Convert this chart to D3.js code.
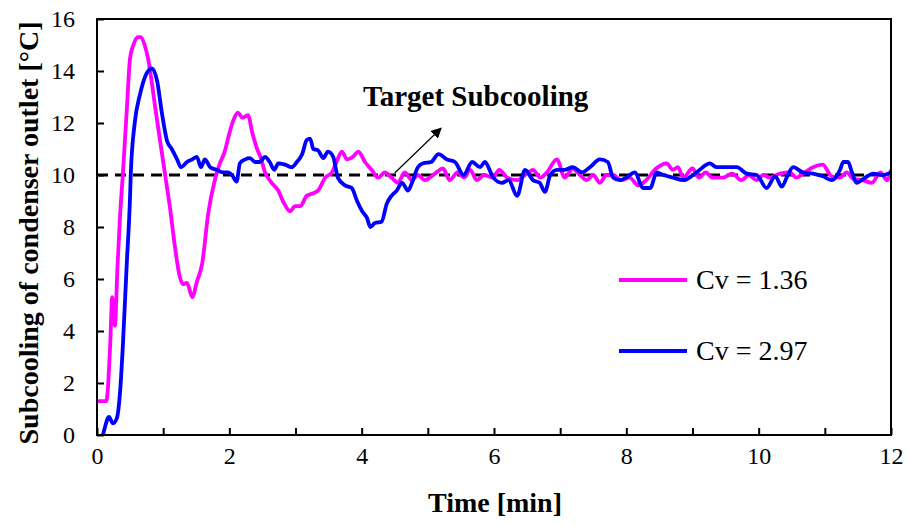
<!DOCTYPE html>
<html>
<head>
<meta charset="utf-8">
<script src="https://cdn.jsdelivr.net/npm/d3@7"></script>
<style>
  body { margin: 0; background: #fff; }
  svg text { font-family: "Liberation Serif", "Times New Roman", serif; fill: #000; }
</style>
</head>
<body>
<div id="chart"></div>
<script>
const FRAME_WIDTH = 908;
const FRAME_HEIGHT = 525;
const MARGINS = {left: 97, right: 17, top: 19, bottom: 90};

const X_TICKS = [0, 1, 2, 3, 4, 5, 6, 7, 8, 9, 10, 11, 12];
const Y_TICKS = [0, 2, 4, 6, 8, 10, 12, 14, 16];
const TARGET = 10;

// Cv = 1.36 (magenta)
const MAG_T = [0, 0.14, 0.2, 0.23, 0.27, 0.31, 0.35, 0.39, 0.45, 0.5, 0.55, 0.62, 0.66, 0.72, 0.77, 0.88, 0.96, 1.03, 1.1, 1.18,
  1.25, 1.3, 1.36, 1.44, 1.51, 1.59, 1.68, 1.78, 1.85, 1.93, 2.0, 2.06, 2.13, 2.2, 2.28, 2.35, 2.42, 2.47, 2.54, 2.64,
  2.74, 2.81, 2.92, 2.99, 3.07, 3.17, 3.27, 3.34, 3.45, 3.55, 3.62, 3.7, 3.78, 3.87, 3.95, 4.05, 4.15, 4.25, 4.35, 4.45,
  4.55, 4.65, 4.76, 4.85, 4.95, 5.03, 5.13, 5.23, 5.33, 5.45, 5.55, 5.64, 5.74, 5.85, 5.98, 6.08, 6.2, 6.35, 6.47, 6.59,
  6.7, 6.8, 6.95, 7.07, 7.19, 7.3, 7.4, 7.5, 7.6, 7.7, 7.8, 7.92, 8.05, 8.18, 8.3, 8.45, 8.61, 8.7, 8.78, 8.86,
  9.0, 9.1, 9.2, 9.3, 9.46, 9.6, 9.74, 9.85, 9.97, 10.07, 10.17, 10.32, 10.47, 10.57, 10.67, 10.82, 10.97, 11.1, 11.23, 11.33,
  11.43, 11.57, 11.71, 11.84, 11.94, 12];
const MAG_V = [1.3, 1.3, 3.5, 5.3, 4.2, 6.5, 8.5, 10, 12.5, 14.5, 15.0, 15.3, 15.3, 15.0, 14.5, 12.6, 11.2, 10, 8.8, 7.2,
  6.1, 5.8, 5.85, 5.3, 5.9, 6.6, 8.5, 9.8, 10.4, 10.9, 11.6, 12.1, 12.4, 12.2, 12.3, 11.6, 11.0, 10.7, 10.1, 9.7,
  9.4, 9.0, 8.6, 8.8, 8.8, 9.2, 9.3, 9.4, 9.9, 10.1, 10.5, 10.9, 10.6, 10.7, 10.9, 10.5, 10.2, 9.9, 10.1, 9.9,
  9.7, 10.1, 9.8, 10.0, 9.8, 9.9, 10.1, 10.25, 9.8, 10.1, 9.9, 10.2, 9.8, 10.0, 9.9, 10.2, 9.9, 9.8, 10.0, 10.2,
  9.9, 10.1, 10.6, 9.9, 10.25, 10.0, 9.8, 10.0, 9.7, 10.0, 10.0, 9.8, 9.9, 9.6, 9.8, 10.25, 10.45, 10.2, 10.3, 9.9,
  10.25, 9.9, 10.1, 9.9, 9.9, 10.05, 9.8, 10.0, 9.8, 10.0, 9.9, 10.05, 10.1, 9.9, 10.05, 10.3, 10.4, 9.95, 9.9, 10.1,
  9.85, 9.8, 9.7, 10.1, 9.8, 10.2];

// Cv = 2.97 (blue)
const BLUE_T = [0.09, 0.12, 0.18, 0.24, 0.3, 0.35, 0.39, 0.45, 0.5, 0.51, 0.57, 0.65, 0.73, 0.83, 0.91, 0.98, 1.06, 1.13, 1.21, 1.27,
  1.36, 1.44, 1.51, 1.57, 1.63, 1.71, 1.81, 1.9, 1.98, 2.04, 2.11, 2.16, 2.24, 2.31, 2.39, 2.46, 2.54, 2.61, 2.68, 2.74,
  2.84, 2.94, 3.02, 3.1, 3.17, 3.22, 3.27, 3.34, 3.42, 3.49, 3.57, 3.64, 3.75, 3.85, 3.93, 4.01, 4.08, 4.13, 4.2, 4.3,
  4.38, 4.45, 4.53, 4.61, 4.7, 4.76, 4.85, 4.93, 5.05, 5.16, 5.29, 5.41, 5.54, 5.67, 5.79, 5.86, 5.99, 6.12, 6.22, 6.35,
  6.47, 6.59, 6.69, 6.77, 6.85, 6.95, 7.07, 7.19, 7.33, 7.45, 7.6, 7.72, 7.8, 7.9, 8.0, 8.13, 8.25, 8.36, 8.46, 8.56,
  8.71, 8.86, 9.01, 9.11, 9.26, 9.36, 9.52, 9.67, 9.82, 9.97, 10.12, 10.25, 10.35, 10.44, 10.52, 10.67, 10.82, 10.97, 11.11, 11.23,
  11.28, 11.35, 11.41, 11.48, 11.61, 11.73, 11.88, 12.0];
const BLUE_V = [0, 0.3, 0.7, 0.45, 0.65, 1.7, 3.4, 6.6, 9.2, 10, 12.0, 13.1, 13.8, 14.1, 13.6, 12.4, 11.3, 11.0, 10.6, 10.3,
  10.5, 10.6, 10.7, 10.3, 10.6, 10.3, 10.2, 10.1, 10.1, 10.0, 9.75, 10.45, 10.6, 10.65, 10.5, 10.5, 10.7, 10.5, 10.2, 10.45,
  10.4, 10.3, 10.5, 10.8, 11.35, 11.4, 11.0, 10.95, 10.65, 10.9, 10.7, 9.9, 9.6, 9.5, 9.0, 8.6, 8.35, 8.0, 8.15, 8.2,
  8.9, 9.2, 9.4, 9.7, 9.4, 9.7, 10.3, 10.45, 10.5, 10.8, 10.6, 10.5, 10.0, 10.5, 10.3, 10.5, 9.9, 9.7, 9.8, 9.2,
  10.2, 9.8, 9.7, 9.35, 10.0, 10.2, 10.2, 10.3, 10.1, 10.3, 10.6, 10.5, 9.9, 9.8, 9.9, 10.1, 9.5, 9.5, 10.1, 10.0,
  9.9, 9.8, 10.0, 10.2, 10.45, 10.3, 10.3, 10.3, 10.05, 10.0, 9.5, 9.95, 9.55, 10.0, 10.3, 10.1, 10.05, 9.95, 9.8, 10.2,
  10.5, 10.5, 10.1, 9.7, 9.9, 10.05, 10.0, 10.1];

const SERIES = [
  {name: "Cv = 1.36", color: "#ff00ff", t: MAG_T, v: MAG_V},
  {name: "Cv = 2.97", color: "#0000ff", t: BLUE_T, v: BLUE_V}
];

const VIS_WIDTH = FRAME_WIDTH - MARGINS.left - MARGINS.right;
const VIS_HEIGHT = FRAME_HEIGHT - MARGINS.top - MARGINS.bottom;

const svg = d3.select("#chart").append("svg")
  .attr("width", FRAME_WIDTH)
  .attr("height", FRAME_HEIGHT);

const X_SCALE = d3.scaleLinear().domain([0, 12]).range([MARGINS.left, MARGINS.left + VIS_WIDTH]);
const Y_SCALE = d3.scaleLinear().domain([0, 16]).range([MARGINS.top + VIS_HEIGHT, MARGINS.top]);

svg.append("defs").append("clipPath").attr("id", "plot-clip")
  .append("rect")
    .attr("x", MARGINS.left).attr("y", MARGINS.top)
    .attr("width", VIS_WIDTH).attr("height", VIS_HEIGHT);

// x axis (ticks inward)
const xAxis = svg.append("g")
  .attr("transform", "translate(0," + (MARGINS.top + VIS_HEIGHT) + ")")
  .call(d3.axisBottom(X_SCALE).tickValues(X_TICKS).tickSize(-7).tickPadding(12)
    .tickFormat((d) => d % 2 == 0 ? d : ""));
xAxis.select(".domain").remove();
xAxis.selectAll("line").attr("stroke", "#000").attr("stroke-width", 2);
xAxis.selectAll("text").attr("font-size", "24px");

// y axis
const yAxis = svg.append("g")
  .attr("transform", "translate(" + MARGINS.left + ",0)")
  .call(d3.axisLeft(Y_SCALE).tickValues(Y_TICKS).tickSize(-7).tickPadding(22));
yAxis.select(".domain").remove();
yAxis.selectAll("line").attr("stroke", "#000").attr("stroke-width", 2);
yAxis.selectAll("text").attr("font-size", "24px");

// target line
svg.append("line")
  .attr("x1", X_SCALE(0)).attr("x2", X_SCALE(12))
  .attr("y1", Y_SCALE(TARGET)).attr("y2", Y_SCALE(TARGET))
  .attr("stroke", "#000").attr("stroke-width", 3)
  .attr("stroke-dasharray", "11,7");

// series lines
const line = d3.line()
  .curve(d3.curveMonotoneX)
  .x((d) => X_SCALE(d[0]))
  .y((d) => Y_SCALE(d[1]));

SERIES.forEach((s) => {
  svg.append("path")
    .datum(s.t.map((t, i) => [t, s.v[i]]))
    .attr("clip-path", "url(#plot-clip)")
    .attr("fill", "none")
    .attr("stroke", s.color)
    .attr("stroke-width", 3.8)
    .attr("stroke-linejoin", "round")
    .attr("d", line);
});

// plot frame
svg.append("rect")
  .attr("x", MARGINS.left).attr("y", MARGINS.top)
  .attr("width", VIS_WIDTH).attr("height", VIS_HEIGHT)
  .attr("fill", "none").attr("stroke", "#000").attr("stroke-width", 2);

// annotation
svg.append("defs").append("marker")
  .attr("id", "arrow").attr("viewBox", "0 0 10 10")
  .attr("refX", 9).attr("refY", 5)
  .attr("markerWidth", 9).attr("markerHeight", 9)
  .attr("orient", "auto")
  .append("path").attr("d", "M0,0 L10,5 L0,10 z").attr("fill", "#000");

svg.append("line")
  .attr("x1", X_SCALE(4.5)).attr("y1", Y_SCALE(TARGET) - 2)
  .attr("x2", X_SCALE(5.2)).attr("y2", Y_SCALE(11.8))
  .attr("stroke", "#000").attr("stroke-width", 1.2)
  .attr("marker-end", "url(#arrow)");

svg.append("text")
  .attr("x", 363).attr("y", 106)
  .attr("font-size", "29px").attr("font-weight", "bold")
  .text("Target Subcooling");

// legend
SERIES.forEach((s, i) => {
  const y = 280 + i * 71;
  svg.append("line")
    .attr("x1", 619).attr("x2", 687)
    .attr("y1", y).attr("y2", y)
    .attr("stroke", s.color).attr("stroke-width", 3.8);
  svg.append("text")
    .attr("x", 696).attr("y", y + 9)
    .attr("font-size", "28px")
    .text(s.name);
});

// axis titles
svg.append("text")
  .attr("x", 495).attr("y", 512)
  .attr("text-anchor", "middle")
  .attr("font-size", "28px").attr("font-weight", "bold")
  .text("Time [min]");

svg.append("text")
  .attr("transform", "translate(38," + (MARGINS.top + VIS_HEIGHT / 2 + 6) + ") rotate(-90)")
  .attr("text-anchor", "middle")
  .attr("font-size", "28px").attr("font-weight", "bold")
  .text("Subcooling of condenser outlet [°C]");
</script>
</body>
</html>
